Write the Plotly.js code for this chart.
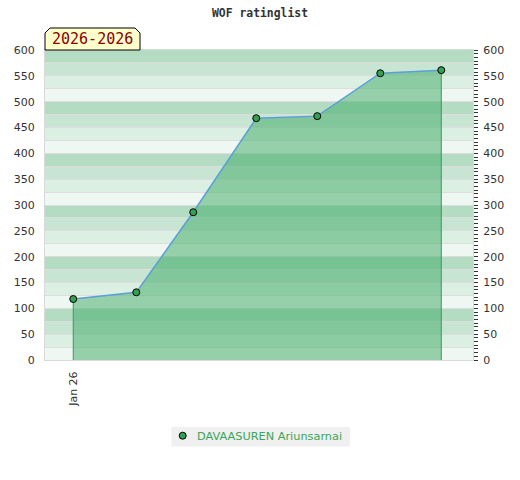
<!DOCTYPE html>
<html>
<head>
<meta charset="utf-8">
<script src="https://cdn.plot.ly/plotly-3.0.1.min.js"></script>
<style>html,body{margin:0;padding:0;background:#fff;}#chart{width:520px;height:480px;}</style>
</head>
<body>
<div id="chart"></div>
<script>
// Data
var dates = ['2026-01-01','2026-02-01','2026-03-01','2026-04-01','2026-05-01','2026-06-01','2026-07-01'];
var ratings = [118, 131, 286, 468, 472, 555, 561];
var playerName = 'DAVAASUREN Ariunsarnai';
var chartTitle = 'WOF ratinglist';
var periodLabel = '2026-2026';

function px(x){ return (x - 45) / 428; }
function py(y){ return (360 - y) / 310; }

var bandColors = ['#b3dcc2', '#c8e5d3', '#dcefe3', '#eef7f1'];
var shapes = [];
for (var y = 0; y < 600; y += 25) {
  var idx = ((600 - (y + 25)) / 25) % 4;
  shapes.push({type:'rect', xref:'paper', yref:'y', x0:0, x1:1, y0:y, y1:y+25,
    fillcolor: bandColors[idx], line:{width:0}, layer:'below'});
}
// label box with cut corners
shapes.push({type:'path', xref:'paper', yref:'paper',
  path:'M0,1 L0,' + py(33) + ' L' + px(50) + ',' + py(28) + ' L' + px(135) + ',' + py(28) +
       ' L' + px(140) + ',' + py(33) + ' L' + px(140) + ',1 Z',
  fillcolor:'#ffffcc', line:{color:'#000', width:1}, layer:'above'});
// legend box
shapes.push({type:'rect', xref:'paper', yref:'paper', x0:px(171.5), x1:px(350), y0:py(446.5), y1:py(427),
  fillcolor:'#f0f0f0', line:{width:0}, layer:'above'});
shapes.push({type:'circle', xref:'paper', yref:'paper', xsizemode:'pixel', ysizemode:'pixel',
  xanchor:px(182.7), yanchor:py(435.7), x0:-3.5, x1:3.5, y0:-3.5, y1:3.5,
  fillcolor:'#33a152', line:{color:'#000', width:1}, layer:'above'});

var n = dates.length;
var traces = [
  {x: dates, y: ratings, type:'scatter', mode:'lines', fill:'tozeroy',
   fillcolor:'rgba(60,170,100,0.5)', line:{width:0}, showlegend:false, hoverinfo:'skip'},
  {x: [dates[0], dates[0], null, dates[n-1], dates[n-1]],
   y: [0, ratings[0], null, 0, ratings[n-1]], type:'scatter', mode:'lines',
   line:{color:'#3a9a5a', width:1}, showlegend:false, hoverinfo:'skip'},
  {x: dates, y: ratings, type:'scatter', mode:'lines',
   line:{color:'#5b9fd8', width:1.5}, showlegend:false},
  {x: dates, y: ratings, type:'scatter', mode:'markers', name: playerName, showlegend:false,
   marker:{color:'#33a152', size:7, line:{color:'#000', width:1}}},
  {x:[dates[0]], y:[ratings[0]], yaxis:'y2', type:'scatter', mode:'markers',
   marker:{opacity:0}, showlegend:false, hoverinfo:'skip'}
];

var tickFont = {family:'DejaVu Sans', size:11, color:'#333'};
var layout = {
  width:520, height:480,
  margin:{l:45, r:47, t:50, b:120},
  paper_bgcolor:'#fff', plot_bgcolor:'#fff',
  title:{text: chartTitle, font:{family:'DejaVu Sans Mono', size:11.4, color:'#333', weight:'bold'},
    x:0.5, xref:'container', y:1-13/480, yref:'container', yanchor:'middle'},
  xaxis:{type:'date', range:['2025-12-18 02:24','2026-07-16 14:24'],
    tick0:'2026-01-01', dtick:'M12', tickformat:'%b %y', tickangle:-90,
    tickfont:tickFont, showgrid:false, zeroline:false, ticks:'outside', ticklen:6, tickcolor:'rgba(0,0,0,0)',
    showline:true, mirror:true, linecolor:'#d9d9d9', linewidth:1, automargin:false, fixedrange:true},
  yaxis:{range:[0,600], dtick:50, tick0:0, tickfont:tickFont, showgrid:true, gridcolor:'#dddddd', gridwidth:1,
    minor:{dtick:25, showgrid:true, gridcolor:'#dddddd', gridwidth:1, ticks:''},
    zeroline:false, ticks:'outside', ticklen:7, tickcolor:'rgba(0,0,0,0)',
    showline:true, mirror:true, linecolor:'#d9d9d9', linewidth:1, automargin:false, fixedrange:true},
  yaxis2:{range:[0,600], dtick:50, tick0:0, overlaying:'y', side:'right', tickfont:tickFont,
    showgrid:false, zeroline:false, ticks:'outside', ticklen:4, tickcolor:'#333', tickwidth:1,
    minor:{dtick:50/7, ticks:'outside', ticklen:4, tickcolor:'#333', tickwidth:1, showgrid:false},
    ticklabelstandoff:3, showline:false, automargin:false, fixedrange:true},
  showlegend:false,
  shapes: shapes,
  annotations:[
    {text: periodLabel, xref:'paper', yref:'paper', x:px(92.5), y:py(39.5),
     xanchor:'center', yanchor:'middle', showarrow:false,
     font:{family:'DejaVu Sans Mono', size:15, color:'#8b0000'}},
    {text: playerName, xref:'paper', yref:'paper', x:px(196.3), y:py(436.5),
     xanchor:'left', yanchor:'middle', showarrow:false, xshift:-1,
     font:{family:'DejaVu Sans', size:11.3, color:'#3aa65a'}}
  ]
};

Plotly.newPlot('chart', traces, layout, {displayModeBar:false, staticPlot:true});
</script>
</body>
</html>
